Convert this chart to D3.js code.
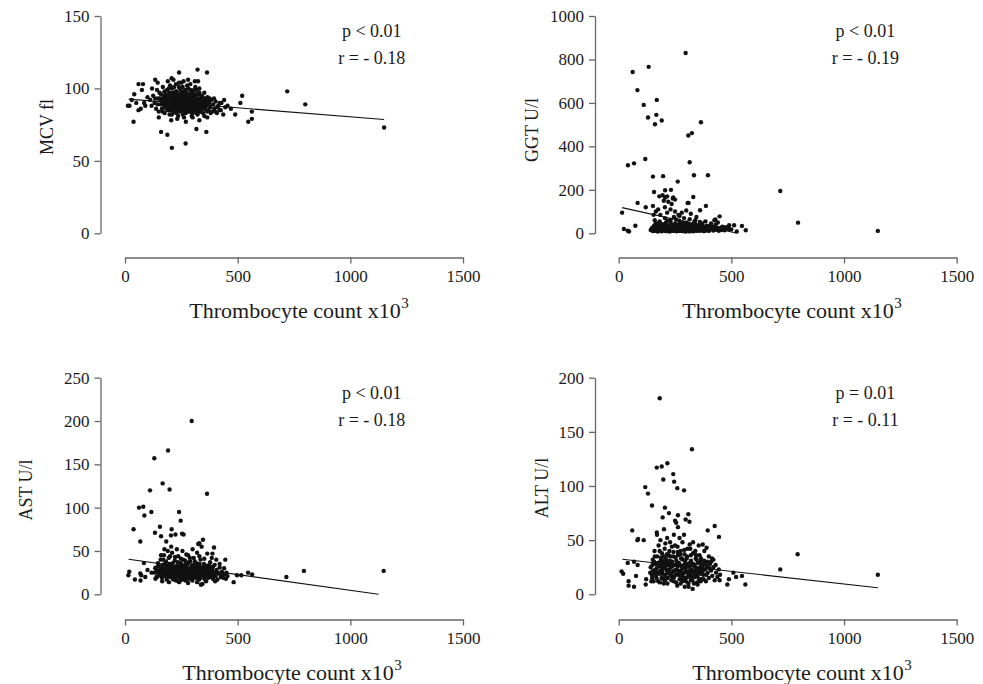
<!DOCTYPE html>
<html>
<head>
<meta charset="utf-8">
<script src="https://cdn.jsdelivr.net/npm/d3@7"></script>
<style>
body { margin: 0; background: #fff; }
svg { display: block; font-family: 'Liberation Serif', 'Times New Roman', serif; }
.axis path, .axis line { stroke: #666; stroke-width: 1.3; }
.axis text { fill: #1a1a1a; font-size: 17px; font-family: 'Liberation Serif', 'Times New Roman', serif; }
.point { fill: #111; }
.fit { stroke: #111; stroke-width: 1.1; fill: none; }
</style>
</head>
<body>
<div id="vis"></div>
<script>
const FRAME_WIDTH = 983;
const FRAME_HEIGHT = 684;

// ---- data ----
const xTicks = [0, 500, 1000, 1500];
const yLabels = ['MCV fl', 'GGT U/l', 'AST U/l', 'ALT U/l'];
const yMax = [150, 1000, 250, 200];
const yTicks = [
  [0, 50, 100, 150],
  [0, 200, 400, 600, 800, 1000],
  [0, 50, 100, 150, 200, 250],
  [0, 50, 100, 150, 200]
];
const pTexts = ['p < 0.01', 'p < 0.01', 'p < 0.01', 'p = 0.01'];
const rTexts = ['r = - 0.18', 'r = - 0.19', 'r = - 0.18', 'r = - 0.11'];

// regression lines, [x, y] end points
const fitLines = [
  [[16, 92.6], [1150, 78.6]],
  [[15, 118], [521, 1.4]],
  [[16, 40.4], [1125, 0]],
  [[16, 32.3], [1150, 6.1]]
];

// thrombocyte count, MCV
const mcvPoints = [
  [1150,73],[720,98],[800,89],[520,95],[563,84],[547,77],[489,82],[512,90],[208,59],[269,62],
  [160,70],[188,68],[38,77],[317,72],[361,70],[322,113],[364,111],[240,111],[207,107],[134,106],
  [13,88],[60,103],[80,103],[75,99],[41,96],[324,105],[260,105],[290,99],[563,79],
  [112,92],[118,88],[125,95],[131,90],[138,86],[142,99],[147,93],[150,84],[153,97],[158,89],
  [161,92],[164,86],[168,101],[171,94],[174,88],[176,83],[179,96],[182,91],[184,87],[187,99],
  [189,93],[191,85],[194,90],[196,97],[198,82],[201,88],[203,94],[205,91],[207,86],[209,100],
  [211,95],[213,89],[215,84],[217,92],[219,97],[221,87],[223,90],[225,93],[227,83],[229,98],
  [231,88],[233,95],[235,91],[237,86],[239,101],[241,93],[243,89],[245,84],[247,96],[249,91],
  [251,87],[253,94],[255,90],[257,82],[259,98],[261,92],[263,88],[265,95],[267,85],[269,91],
  [271,89],[273,97],[275,93],[277,86],[279,90],[281,100],[283,84],[285,92],[287,88],[289,95],
  [291,91],[293,86],[295,98],[297,89],[299,93],[301,83],[303,90],[305,96],[307,87],[309,92],
  [311,85],[313,94],[315,89],[317,99],[319,91],[321,86],[323,93],[325,88],[327,96],[329,84],
  [331,90],[334,92],[337,87],[340,95],[343,89],[346,83],[349,91],[352,97],[355,86],[358,92],
  [362,88],[366,94],[370,85],[374,90],[378,87],[382,92],[386,84],[391,89],[396,86],[402,91],
  [408,83],[414,88],[420,85],[428,90],[436,82],[445,87],
  [185,89],[192,94],[199,91],[206,88],[212,93],[218,90],[224,86],[230,92],[236,89],[242,96],
  [248,88],[254,92],[260,86],[266,90],[272,94],[278,88],[284,91],[290,87],[296,93],[302,89],
  [308,95],[314,86],[320,90],[326,92],[332,88],[338,91],[196,85],[210,97],[222,95],[234,84],
  [246,99],[258,95],[270,83],[282,96],[294,84],[306,99],[318,83],[330,97],[244,91],[262,89],
  [280,93],[300,87],[216,88],[228,90],[252,85],[286,89],[310,91],[344,94],[180,90],[174,92],
  [200,102],[226,103],[256,101],[276,102],[160,96],[166,84],[134,93],[144,89],[356,90],[364,84],
  [150,80],[205,78],[232,79],[270,77],[300,80],[330,78],[365,80],[400,84],[420,90],[440,92],
  [455,88],[470,86],[190,105],[215,106],[250,104],[280,106],[310,105],[145,104],[120,100],[100,94],
  [90,88],[70,86],[85,90],[50,90],[30,92],[20,88],[60,85],
  [172,90],[178,94],[183,86],[188,91],[193,88],[198,95],[202,90],[208,92],[213,87],[219,94],
  [223,89],[228,96],[232,87],[238,93],[243,86],[248,94],[252,90],[257,96],[262,87],[267,93],
  [272,89],[277,95],[282,88],[288,93],[292,89],[297,95],[302,92],[307,85],[312,89],[317,93],
  [322,88],[327,91],[333,85],[338,94],[342,90],[348,88],[353,93],[360,89],[368,91],[376,93],
  [186,95],[204,85],[226,98],[241,88],[264,84],[288,84],[298,97],[316,96],[336,84],[350,86],
  [194,100],[218,101],[240,104],[268,99],[290,103],[312,101],[330,100],[175,98],[165,90],[155,93],
  [208,82],[236,81],[262,80],[296,81],[322,82],[352,81],[380,83],[395,93],[410,87],[425,85]
];

// thrombocyte count, GGT
const ggtPoints = [
  [297,830],[62,742],[133,766],[83,659],[169,614],[111,591],[130,533],[167,545],[191,519],[161,502],
  [365,511],[309,450],[325,461],[41,313],[68,322],[118,342],[315,327],[152,261],[197,263],[334,267],
  [396,267],[262,238],[717,195],[796,49],[1150,11],[157,190],[206,198],[232,200],[180,170],[206,165],
  [242,165],[331,167],[84,140],[152,126],[120,120],[306,140],[387,126],[15,95],[23,20],[46,8],
  [74,35],[524,8],[564,14],[547,34],[512,37],[490,37],[361,106],[429,64],[448,78],[40,12],
  [142,15],[148,25],[152,10],[157,35],[160,18],[164,45],[167,12],[170,28],[173,8],[176,38],
  [179,20],[182,55],[185,14],[188,30],[191,9],[194,42],[197,22],[200,16],[203,33],[206,11],
  [209,48],[212,25],[215,13],[218,37],[221,19],[224,8],[227,29],[230,52],[233,15],[236,40],
  [239,21],[242,11],[245,34],[248,17],[251,46],[254,26],[257,9],[260,38],[263,14],[266,23],
  [269,58],[272,12],[275,31],[278,19],[281,44],[284,10],[287,27],[290,16],[293,36],[296,8],
  [299,22],[302,50],[305,13],[308,30],[311,18],[314,41],[317,10],[320,25],[323,15],[326,34],
  [329,20],[332,9],[335,28],[338,45],[341,14],[344,22],[347,11],[350,33],[354,18],[358,26],
  [362,12],[366,38],[370,16],[374,24],[378,10],[382,30],[386,19],[390,14],[395,27],[400,11],
  [405,35],[410,18],[415,24],[420,13],[426,29],[432,16],[438,21],[444,12],[450,25],[456,15],
  [462,19],[470,14],[480,22],[500,18],
  [180,12],[195,18],[210,10],[225,16],[240,13],[255,19],[270,11],[285,17],[300,14],[315,20],
  [330,12],[345,16],[360,21],[375,15],[200,24],[230,22],[260,30],[290,24],[320,32],[350,25],
  [380,20],[220,30],[250,12],[280,15],[310,9],[340,18],[190,36],[270,42],[300,40],[230,62],
  [205,70],[245,75],[265,85],[290,70],[315,65],[340,60],[360,52],[385,55],[410,45],[425,60],
  [185,85],[215,95],[250,100],[280,95],[300,105],[175,110],[205,120],[235,135],[200,150],
  [220,145],[270,80],[320,90],[345,75],[160,60],[155,85],[165,100],[240,160],[250,155],[195,175],
  [215,170],[230,110],[310,140],
  [150,20],[158,12],[166,22],[174,16],[183,24],[192,13],[202,20],[213,18],[223,24],[232,10],
  [244,22],[253,15],[262,21],[274,17],[283,22],[292,12],[304,18],[313,26],[322,10],[334,21],
  [343,28],[352,13],[364,17],[372,22],[384,13],[393,21],[403,17],[412,30],[422,19],[435,27],
  [446,17],[165,32],[205,40],[235,28],[265,36],[295,30],[325,40],[355,38],[390,35],[430,40],
  [215,58],[255,64],[285,50],[335,52],[370,45],[178,48],[440,50],[460,30],[475,28],[490,20]
];

// thrombocyte count, AST
const astPoints = [
  [296,200],[191,166],[130,157],[167,128],[198,121],[111,120],[364,116],[62,100],[81,101],[117,95],
  [86,91],[240,95],[247,85],[38,75],[155,78],[207,75],[133,71],[160,67],[204,68],[224,69],
  [253,70],[260,69],[68,61],[183,61],[346,63],[330,59],[325,58],[395,54],[388,47],[445,40],
  [716,20],[794,27],[1148,27],[482,14],[337,11],[546,25],[564,23],[516,22],[497,22],[450,25],
  [19,26],[15,22],[44,17],[69,16],[72,22],[68,24],[84,36],[118,25],[134,30],[100,28],[90,20],
  [132,25],[138,31],[142,20],[146,36],[150,27],[154,22],[158,40],[161,30],[164,19],[167,34],
  [170,25],[173,45],[176,21],[179,29],[182,38],[185,17],[188,32],[191,24],[194,42],[197,28],
  [200,20],[203,35],[206,26],[209,48],[212,18],[215,31],[218,23],[221,39],[224,27],[227,16],
  [230,33],[233,22],[236,44],[239,29],[242,19],[245,36],[248,25],[251,30],[254,17],[257,40],
  [260,24],[263,32],[266,20],[269,28],[272,46],[275,23],[278,35],[281,18],[284,30],[287,26],
  [290,38],[293,21],[296,33],[299,16],[302,28],[305,42],[308,24],[311,31],[314,19],[317,36],
  [320,27],[323,22],[326,34],[329,17],[332,29],[335,40],[338,23],[341,31],[344,12],[347,26],
  [350,35],[354,20],[358,28],[362,24],[366,33],[370,19],[374,27],[378,37],[382,22],[386,30],
  [390,18],[394,25],[398,34],[402,21],[406,28],[410,17],[415,24],[420,31],[425,20],[430,26],
  [436,19],[442,23],[448,18],[455,21],
  [180,26],[192,30],[204,22],[216,27],[228,31],[240,24],[252,28],[264,33],[276,27],[288,22],
  [300,30],[312,25],[324,29],[336,26],[348,22],[360,30],[372,25],[196,35],[220,20],[244,32],
  [268,24],[292,29],[316,23],[340,28],[364,21],[388,27],[210,29],[234,26],[258,21],[282,25],
  [306,20],[330,25],[186,23],[202,30],[226,24],[250,35],[274,30],[298,25],[322,31],[346,30],
  [160,45],[175,52],[190,50],[205,55],[230,52],[255,50],[280,45],[300,52],[320,48],[340,55],
  [365,47],[385,42],[405,40],[420,35],[440,30],[150,33],[140,28],[135,18],[165,15],[195,14],
  [240,14],[280,13],[320,14],[360,15],[400,15],
  [152,24],[158,30],[163,26],[168,21],[172,30],[177,35],[181,22],[187,28],[193,21],[198,33],
  [203,27],[208,23],[213,36],[217,25],[222,30],[226,20],[231,28],[235,37],[241,26],[246,21],
  [250,27],[255,33],[259,29],[265,25],[270,35],[274,20],[279,29],[283,37],[289,28],[294,25],
  [297,21],[303,34],[307,27],[313,28],[318,32],[321,19],[327,25],[331,35],[337,30],[343,24],
  [349,29],[352,18],[357,33],[363,27],[369,23],[373,31],[379,26],[384,20],[391,32],[397,22],
  [170,40],[200,44],[222,43],[248,41],[266,39],[288,42],[310,38],[330,44],[352,41],[375,33],
  [185,31],[215,17],[245,16],[268,16],[295,18],[335,19],[410,25],[430,22],[145,25],[140,20]
];

// thrombocyte count, ALT
const altPoints = [
  [182,181],[325,134],[169,117],[191,118],[216,121],[242,111],[198,106],[246,104],[260,98],[290,96],
  [118,99],[130,93],[148,82],[205,80],[223,75],[195,71],[263,73],[309,74],[297,69],[314,67],
  [250,68],[255,66],[201,60],[263,62],[426,63],[395,59],[445,53],[60,59],[86,51],[83,50],
  [111,50],[169,57],[794,37],[717,23],[1150,18],[562,9],[547,17],[521,16],[509,20],[482,9],
  [489,14],[448,13],[328,5],[293,7],[13,21],[20,19],[40,29],[68,30],[84,27],[44,12],
  [44,8],[68,7],[77,17],[120,9],[122,14],[145,12],[373,46],[390,43],[414,33],
  [142,25],[147,18],[151,32],[155,12],[159,40],[162,22],[165,28],[168,15],[171,35],[174,20],
  [177,45],[180,26],[183,11],[186,31],[189,19],[192,38],[195,24],[198,14],[201,29],[204,42],
  [207,17],[210,33],[213,22],[216,10],[219,27],[222,36],[225,19],[228,48],[231,25],[234,13],
  [237,30],[240,21],[243,39],[246,16],[249,27],[252,34],[255,11],[258,23],[261,44],[264,18],
  [267,29],[270,14],[273,37],[276,22],[279,26],[282,12],[285,32],[288,19],[291,41],[294,24],
  [297,15],[300,28],[303,35],[306,20],[309,10],[312,26],[315,46],[318,17],[321,31],[324,23],
  [327,13],[330,38],[333,21],[336,27],[339,16],[342,33],[345,24],[348,11],[351,29],[355,19],
  [359,36],[363,22],[367,14],[371,27],[375,18],[379,31],[383,23],[387,12],[391,26],[395,20],
  [400,15],[405,28],[410,22],[415,17],[420,25],[426,13],[432,20],[438,16],[444,23],[450,18],
  [185,22],[196,27],[207,24],[218,20],[229,29],[240,16],[251,22],[262,26],[273,18],[284,24],
  [295,30],[306,16],[317,22],[328,27],[339,21],[350,17],[361,25],[372,21],[190,15],[212,30],
  [234,19],[256,31],[278,17],[300,21],[322,16],[344,20],[366,28],[200,35],[225,40],[250,45],
  [275,40],[305,42],[330,48],[245,55],[270,52],[215,52],[185,50],[170,55],[290,55],[355,45],
  [380,40],[400,35],[420,32],[160,20],[150,27],[200,10],[260,8],[310,7],[350,9],[280,33],
  [230,35],[190,30],[320,36],[340,40],[365,33],
  [153,22],[157,30],[164,17],[168,24],[173,29],[178,19],[184,27],[188,34],[193,21],[197,31],
  [203,18],[208,27],[214,37],[218,15],[224,23],[227,31],[233,17],[238,26],[242,35],[247,22],
  [253,18],[257,28],[263,36],[266,21],[272,27],[277,33],[281,20],[286,15],[290,27],[296,21],
  [302,33],[305,25],[311,19],[316,29],[320,13],[326,20],[331,28],[335,17],[341,25],[346,32],
  [352,22],[357,14],[362,30],[368,19],[373,24],[377,14],[382,28],[389,18],[394,30],[402,24],
  [175,12],[205,13],[245,12],[275,10],[298,12],[334,10],[364,12],[182,40],[236,44],[262,39],
  [292,37],[318,42],[344,36],[207,47],[283,48],[410,30],[430,27],[160,35],[148,15],[140,20]
];

const pointSets = [mcvPoints, ggtPoints, astPoints, altPoints];

// ---- layout of the four panels (pixels) ----
const LAYOUT = [
  {x0: 125, x1: 463, xAxisY: 257.5, yAxisX: 100.5, yBottom: 233.3, yTop: 16, yTitle: [53, 127], xTitleX: 295},
  {x0: 618.7, x1: 956.7, xAxisY: 257.5, yAxisX: 595, yBottom: 233.3, yTop: 16, yTitle: [538, 130], xTitleX: 788},
  {x0: 125, x1: 463, xAxisY: 619.5, yAxisX: 100.5, yBottom: 594.3, yTop: 377.7, yTitle: [32, 490], xTitleX: 288},
  {x0: 618.7, x1: 956.7, xAxisY: 619.5, yAxisX: 595, yBottom: 594.3, yTop: 377.7, yTitle: [548, 488], xTitleX: 798}
];

const svg = d3.select('#vis')
  .append('svg')
    .attr('width', FRAME_WIDTH)
    .attr('height', FRAME_HEIGHT);

LAYOUT.forEach((L, i) => {
  const X_SCALE = d3.scaleLinear().domain([0, 1500]).range([L.x0, L.x1]);
  const Y_SCALE = d3.scaleLinear().domain([0, yMax[i]]).range([L.yBottom, L.yTop]);

  // y axis
  svg.append('g')
      .attr('class', 'axis')
      .attr('transform', 'translate(' + L.yAxisX + ',0)')
      .call(d3.axisLeft(Y_SCALE).tickValues(yTicks[i]).tickFormat(d3.format('d'))
              .tickSize(6).tickSizeOuter(0).tickPadding(5));

  // x axis, detached below
  svg.append('g')
      .attr('class', 'axis')
      .attr('transform', 'translate(0,' + L.xAxisY + ')')
      .call(d3.axisBottom(X_SCALE).tickValues(xTicks).tickFormat(d3.format('d'))
              .tickSize(6).tickSizeOuter(0).tickPadding(6));

  // points
  svg.append('g').selectAll('circle')
    .data(pointSets[i])
    .enter()
    .append('circle')
      .attr('class', 'point')
      .attr('cx', d => X_SCALE(d[0]))
      .attr('cy', d => Y_SCALE(d[1]))
      .attr('r', 2.2);

  // regression line
  svg.append('path')
      .attr('class', 'fit')
      .attr('d', d3.line().x(d => X_SCALE(d[0])).y(d => Y_SCALE(d[1]))(fitLines[i]));

  // statistics
  const statX = X_SCALE(1095);
  svg.append('text')
      .attr('x', statX).attr('y', L.yTop + 21)
      .attr('text-anchor', 'middle').attr('font-size', '18px').attr('fill', '#1a1a1a')
      .text(pTexts[i]);
  svg.append('text')
      .attr('x', statX).attr('y', L.yTop + 48)
      .attr('text-anchor', 'middle').attr('font-size', '18px').attr('fill', '#1a1a1a')
      .text(rTexts[i]);

  // y title
  svg.append('text')
      .attr('transform', 'translate(' + L.yTitle[0] + ',' + L.yTitle[1] + ') rotate(-90)')
      .attr('text-anchor', 'middle').attr('font-size', '18px').attr('fill', '#1a1a1a')
      .text(yLabels[i]);

  // x title with superscript
  const xt = svg.append('text')
      .attr('x', L.xTitleX).attr('y', L.xAxisY + 60.5)
      .attr('text-anchor', 'middle').attr('font-size', '22px').attr('fill', '#1a1a1a')
      .text('Thrombocyte count x10');
  const bb = xt.node().getBBox();
  svg.append('text')
      .attr('x', bb.x + bb.width + 0.5).attr('y', L.xAxisY + 50.5)
      .attr('font-size', '15px').attr('fill', '#1a1a1a')
      .text('3');
});
</script>
</body>
</html>
